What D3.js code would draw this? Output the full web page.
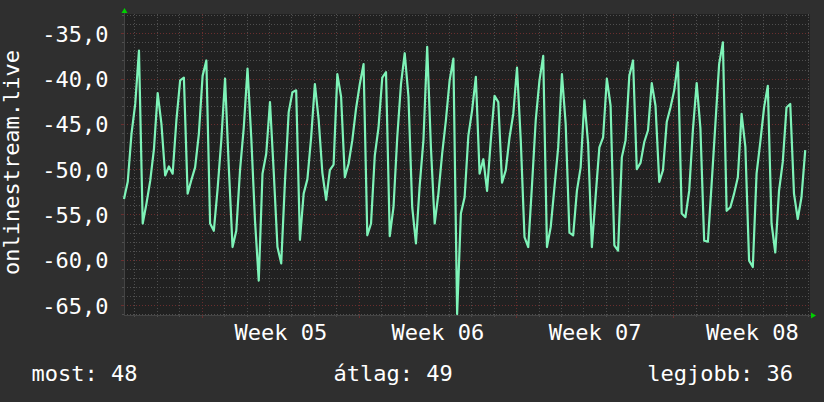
<!DOCTYPE html>
<html><head><meta charset="utf-8">
<script src="https://cdn.jsdelivr.net/npm/d3@7"></script>
<style>
html,body{margin:0;padding:0;background:#2f2f2f;}
svg{display:block;}
text{font-family:"DejaVu Sans Mono",monospace;fill:#ffffff;}
</style></head>
<body><svg id="c" width="824" height="402"></svg>
<script>
// ---- data (4-hour samples) ----
const startTime = Date.UTC(2024, 0, 25, 13);   // first sample
const endTime = Date.UTC(2024, 0, 25, 13) + 733.1 * 3600e3;
const stepHours = 4;
const values = [
-53.3,-51.4,-46.1,-42.8,-36.9,-56.0,-53.8,-51.3,-47.8,-41.6,-45.0,-50.7,-49.7,-50.5,-44.6,-40.2,-39.9,-52.7,-51.2,-49.8,
-46.1,-39.7,-38.0,-56.0,-56.8,-52.2,-46.8,-40.0,-49.8,-58.6,-56.8,-50.1,-45.4,-38.9,-46.5,-55.7,-62.3,-50.5,-48.3,-42.6,
-50.3,-58.6,-60.4,-51.4,-43.7,-41.5,-41.3,-57.8,-52.7,-51.1,-46.5,-40.6,-44.5,-50.4,-53.4,-50.1,-49.5,-39.5,-42.0,-50.9,
-49.4,-46.8,-43.3,-40.6,-38.4,-57.3,-56.0,-48.5,-45.4,-39.9,-39.3,-57.4,-54.2,-46.5,-40.6,-37.2,-42.0,-54.2,-58.2,-51.8,
-46.8,-36.5,-47.6,-56.0,-52.7,-48.3,-44.6,-40.2,-37.8,-66.0,-54.9,-53.1,-46.3,-43.5,-39.8,-50.5,-48.9,-52.4,-46.8,-41.9,
-42.6,-51.5,-50.1,-46.5,-43.9,-38.8,-46.8,-57.5,-58.6,-51.8,-44.6,-40.2,-37.5,-58.6,-56.4,-52.0,-47.6,-39.5,-45.0,-57.0,
-57.3,-52.4,-49.8,-42.4,-47.2,-58.6,-53.0,-47.6,-46.5,-40.0,-43.0,-58.4,-59.0,-48.7,-46.8,-39.7,-38.0,-50.0,-49.3,-47.0,
-45.7,-40.5,-43.0,-51.4,-50.1,-44.8,-43.2,-41.3,-38.2,-54.9,-55.3,-52.4,-45.6,-40.5,-45.5,-57.9,-58.0,-51.6,-45.0,-38.4,
-36.0,-54.6,-54.2,-52.7,-50.9,-43.9,-47.5,-60.1,-60.8,-50.5,-47.0,-43.2,-40.8,-56.0,-59.2,-52.4,-49.2,-43.2,-42.8,-52.7,
-55.5,-53.1,-47.9
];
const yTicks = [-35, -40, -45, -50, -55, -60, -65];
const yDomain = [-66.1, -32.87];
const xTickDates = [Date.UTC(2024,1,1,12), Date.UTC(2024,1,8,12), Date.UTC(2024,1,15,12), Date.UTC(2024,1,22,12)];
const xTickLabels = ["Week 05", "Week 06", "Week 07", "Week 08"];
const yTitle = "onlinestream.live";
const legendLabels = ["most: 48", "átlag: 49", "legjobb: 36"];

// ---- layout ----
const L = 124, R = 810, T = 14, B = 315;
const svg = d3.select("#c");
svg.append("rect").attr("width", 824).attr("height", 402).attr("fill", "#2f2f2f");
svg.append("rect").attr("x", L).attr("y", T).attr("width", R - L).attr("height", B - T).attr("fill", "#212121");

const x = d3.scaleUtc().domain([new Date(startTime), new Date(endTime)]).range([L, R]);
const y = d3.scaleLinear().domain(yDomain).range([B, T]);

const gridMinor = "#4f4f4f", gridMajor = "#6a2e2e";
const yMinor = d3.range(Math.ceil(yDomain[0]), Math.floor(yDomain[1]) + 1);
const g = svg.append("g");
yMinor.filter(v => v % 5 !== 0).forEach(v => {
  g.append("line").attr("x1", L).attr("x2", R).attr("y1", Math.round(y(v)) + 0.5).attr("y2", Math.round(y(v)) + 0.5)
    .attr("stroke", gridMinor).attr("stroke-dasharray", "1,2");
  g.append("line").attr("x1", L - 2).attr("x2", L).attr("y1", Math.round(y(v)) + 0.5).attr("y2", Math.round(y(v)) + 0.5)
    .attr("stroke", gridMinor);
});
const days = d3.utcDay.range(new Date(startTime), new Date(endTime));
const weeks = d3.utcMonday.range(new Date(startTime), new Date(endTime));
days.filter(d => d.getUTCDay() !== 1).forEach(d => {
  const xx = Math.round(x(d)) + 0.5;
  g.append("line").attr("x1", xx).attr("x2", xx).attr("y1", T).attr("y2", B).attr("stroke", gridMinor).attr("stroke-dasharray", "1,2");
  g.append("line").attr("x1", xx).attr("x2", xx).attr("y1", B).attr("y2", B + 2).attr("stroke", gridMinor);
});
yMinor.filter(v => v % 5 === 0).forEach(v => {
  g.append("line").attr("x1", L).attr("x2", R).attr("y1", Math.round(y(v)) + 0.5).attr("y2", Math.round(y(v)) + 0.5)
    .attr("stroke", gridMajor).attr("stroke-dasharray", "1,2");
  g.append("line").attr("x1", L - 3).attr("x2", L).attr("y1", Math.round(y(v)) + 0.5).attr("y2", Math.round(y(v)) + 0.5)
    .attr("stroke", gridMajor);
});
weeks.forEach(d => {
  const xx = Math.round(x(d)) + 0.5;
  g.append("line").attr("x1", xx).attr("x2", xx).attr("y1", T).attr("y2", B).attr("stroke", gridMajor).attr("stroke-dasharray", "1,2");
  g.append("line").attr("x1", xx).attr("x2", xx).attr("y1", B).attr("y2", B + 3).attr("stroke", gridMajor);
});

svg.append("line").attr("x1", L + 0.5).attr("x2", L + 0.5).attr("y1", 11).attr("y2", B + 1).attr("stroke", "#444");
svg.append("line").attr("x1", L).attr("x2", R + 2).attr("y1", B + 0.5).attr("y2", B + 0.5).attr("stroke", "#444");
svg.append("path").attr("d", `M${L - 2.5},13 L${L + 3.5},13 L${L + 0.5},8 Z`).attr("fill", "#00d000");
svg.append("path").attr("d", `M${R + 1},${B - 2.5} L${R + 1},${B + 3.5} L${R + 6},${B + 0.5} Z`).attr("fill", "#00d000");

// data line
const data = values.map((v, i) => ({ t: new Date(startTime + i * stepHours * 3600e3), v }));
svg.append("path").datum(data)
  .attr("fill", "none").attr("stroke", "#7ef3b8").attr("stroke-width", 2.2).attr("stroke-linejoin", "round")
  .attr("d", d3.line().x(d => x(d.t)).y(d => y(d.v)));

// axes labels
const loc = d3.formatLocale({ decimal: ",", thousands: " ", grouping: [3], currency: ["", ""], minus: "-" });
const fmt = loc.format(".1f");
const ya = svg.append("g").attr("transform", `translate(${L},0)`)
  .call(d3.axisLeft(y).tickValues(yTicks).tickFormat(fmt).tickSize(0).tickPadding(15.5));
ya.select(".domain").remove();
ya.selectAll("text").attr("dy", null).attr("y", 8).style("font-size", "22px").style("font-family", "'DejaVu Sans Mono', monospace").attr("fill", "#fff");

const xa = svg.append("g").attr("transform", `translate(0,${B})`)
  .call(d3.axisBottom(x).tickValues(xTickDates.map(d => new Date(d))).tickFormat((d, i) => xTickLabels[i]).tickSize(0));
xa.select(".domain").remove();
xa.selectAll("text").attr("dy", null).attr("y", 24.5).style("font-size", "22px").style("font-family", "'DejaVu Sans Mono', monospace").attr("fill", "#fff");

svg.append("text").attr("transform", "translate(18.5,162.5) rotate(-90)").attr("text-anchor", "middle")
  .style("font-size", "22px").text(yTitle);

svg.append("text").attr("x", 31.5).attr("y", 381).style("font-size", "22px").text(legendLabels[0]);
svg.append("text").attr("x", 333.5).attr("y", 381).style("font-size", "22px").text(legendLabels[1]);
svg.append("text").attr("x", 793).attr("y", 381).attr("text-anchor", "end").style("font-size", "22px").text(legendLabels[2]);
</script></body></html>
